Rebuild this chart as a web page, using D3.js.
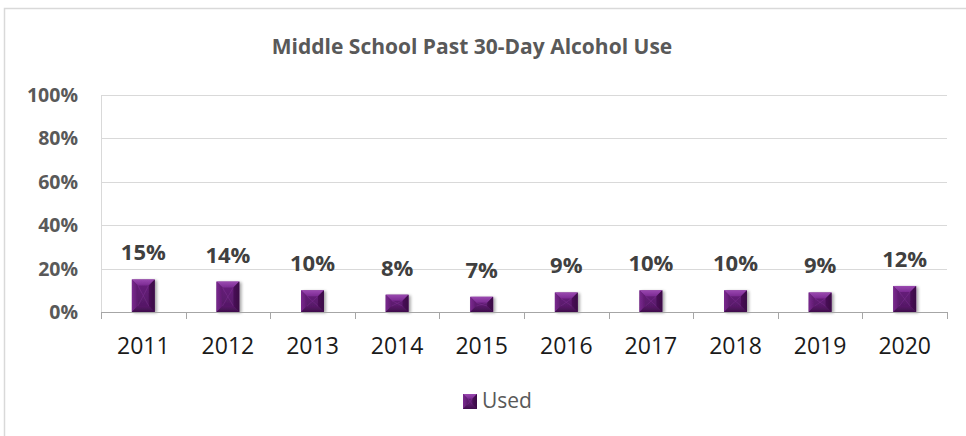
<!DOCTYPE html>
<html>
<head>
<meta charset="utf-8">
<script src="https://cdn.jsdelivr.net/npm/d3@7"></script>
<style>
  html, body { margin: 0; padding: 0; background: #fff; }
  svg { display: block; }
  text { font-family: "Open Sans", "Noto Sans", sans-serif; }
</style>
</head>
<body>
<svg id="chart" width="966" height="436"></svg>
<script>
// Past 30-day alcohol use among middle school students, by survey year
const years = ["2011", "2012", "2013", "2014", "2015", "2016", "2017", "2018", "2019", "2020"];
const usedPct = [15, 14, 10, 8, 7, 9, 10, 10, 9, 12];
const yTicks = [0, 20, 40, 60, 80, 100];
const seriesName = "Used";
const chartTitle = "Middle School Past 30-Day Alcohol Use";

const svg = d3.select("#chart");
const W = 966, H = 436;
const margin = { left: 101, right: 19, top: 95, bottom: 124 };

// chart frame
svg.append("rect")
  .attr("x", 4.5).attr("y", 8.5)
  .attr("width", W + 10).attr("height", H + 10)
  .attr("fill", "#fff").attr("stroke", "#d9d9d9").attr("stroke-width", 1.5);

const x = d3.scaleBand()
  .domain(years)
  .range([margin.left, W - margin.right])
  .paddingInner(0.73).paddingOuter(0.365);

const y = d3.scaleLinear()
  .domain([0, 100])
  .range([H - margin.bottom, margin.top]);

// gradients for the bevelled bar faces
const defs = svg.append("defs");
const mk = (id, stops, x1, y1, x2, y2) => {
  const g = defs.append("linearGradient").attr("id", id)
    .attr("x1", x1).attr("y1", y1).attr("x2", x2).attr("y2", y2);
  stops.forEach(([o, c]) => g.append("stop").attr("offset", o).attr("stop-color", c));
};
mk("gTop", [[0, "#9a49b0"], [1, "#7b2a92"]], 0, 0, 0, 1);
mk("gLeft", [[0, "#7a2a8f"], [1, "#5d1a6e"]], 0, 0, 1, 0);
mk("gRight", [[0, "#4a1158"], [1, "#3a0a45"]], 0, 0, 1, 0);
mk("gBot", [[0, "#5a1a6a"], [1, "#3f0d4c"]], 0, 0, 0, 1);
mk("gMid", [[0, "#6c2180"], [1, "#4f1660"]], 0, 0, 0, 1);

const shadowF = defs.append("filter").attr("id", "shadow")
  .attr("x", "-30%").attr("y", "-30%").attr("width", "160%").attr("height", "160%");
shadowF.append("feGaussianBlur").attr("in", "SourceAlpha").attr("stdDeviation", 1.5);
shadowF.append("feOffset").attr("dx", 2).attr("dy", 1).attr("result", "ob");
shadowF.append("feComponentTransfer").append("feFuncA").attr("type", "linear").attr("slope", 0.35);
const merge = shadowF.append("feMerge");
merge.append("feMergeNode");
merge.append("feMergeNode").attr("in", "SourceGraphic");

// gridlines
svg.append("g").selectAll("line")
  .data(yTicks.filter(t => t > 0))
  .join("line")
  .attr("x1", margin.left).attr("x2", W - margin.right)
  .attr("y1", d => Math.round(y(d)) + 0.5).attr("y2", d => Math.round(y(d)) + 0.5)
  .attr("stroke", "#d9d9d9").attr("stroke-width", 1);

// left axis line
svg.append("line")
  .attr("x1", margin.left + 0.5).attr("x2", margin.left + 0.5)
  .attr("y1", y(100)).attr("y2", y(0))
  .attr("stroke", "#d9d9d9");

// y labels
svg.append("g").selectAll("text")
  .data(yTicks)
  .join("text")
  .attr("x", 78).attr("y", d => y(d))
  .attr("dy", "0.36em")
  .attr("text-anchor", "end")
  .attr("font-size", 19.5).attr("font-weight", "bold")
  .attr("fill", "#595959")
  .text(d => d + "%");

// bevelled bars
function bevel(g, x0, y0, w, h) {
  const b = Math.min(6, w / 3, h / 2.2);
  const x1 = x0 + w, y1 = y0 + h;
  g.append("rect").attr("x", x0).attr("y", y0).attr("width", w).attr("height", h)
    .attr("fill", "url(#gMid)");
  g.append("path").attr("d", `M${x0},${y0}L${x1},${y0}L${x1 - b},${y0 + b}L${x0 + b},${y0 + b}Z`).attr("fill", "url(#gTop)");
  g.append("path").attr("d", `M${x0},${y0}L${x0 + b},${y0 + b}L${x0 + b},${y1 - b}L${x0},${y1}Z`).attr("fill", "url(#gLeft)");
  g.append("path").attr("d", `M${x1},${y0}L${x1},${y1}L${x1 - b},${y1 - b}L${x1 - b},${y0 + b}Z`).attr("fill", "url(#gRight)");
  g.append("path").attr("d", `M${x0},${y1}L${x0 + b},${y1 - b}L${x1 - b},${y1 - b}L${x1},${y1}Z`).attr("fill", "url(#gBot)");
  // faint diagonal creases across the centre face
  g.append("path")
    .attr("d", `M${x0 + b},${y0 + b}L${(x0 + x1) / 2},${(y0 + y1) / 2}L${x1 - b},${y0 + b}M${x0 + b},${y1 - b}L${(x0 + x1) / 2},${(y0 + y1) / 2}L${x1 - b},${y1 - b}`)
    .attr("stroke", "#8a3a9f").attr("stroke-opacity", 0.35).attr("fill", "none").attr("stroke-width", 1);
}

const bars = svg.append("g");
years.forEach((yr, i) => {
  const g = bars.append("g").attr("filter", "url(#shadow)");
  bevel(g, x(yr), y(usedPct[i]), x.bandwidth(), y(0) - y(usedPct[i]));
});

// x axis baseline and ticks
const axisG = svg.append("g");
axisG.append("line")
  .attr("x1", margin.left).attr("x2", W - margin.right)
  .attr("y1", y(0) + 0.5).attr("y2", y(0) + 0.5)
  .attr("stroke", "#a6a6a6");
const step = x.step();
const tickXs = d3.range(years.length + 1).map(i => margin.left + i * step);
axisG.selectAll("line.tick").data(tickXs).join("line").attr("class", "tick")
  .attr("x1", d => Math.round(d) + 0.5).attr("x2", d => Math.round(d) + 0.5)
  .attr("y1", y(0)).attr("y2", y(0) + 7)
  .attr("stroke", "#a6a6a6");

// x labels
svg.append("g").selectAll("text")
  .data(years)
  .join("text")
  .attr("x", d => x(d) + x.bandwidth() / 2)
  .attr("y", y(0) + 42)
  .attr("text-anchor", "middle")
  .attr("font-size", 23)
  .attr("fill", "#1a1a1a")
  .text(d => d);

// value labels
svg.append("g").selectAll("text")
  .data(years)
  .join("text")
  .attr("x", d => x(d) + x.bandwidth() / 2)
  .attr("y", (d, i) => y(usedPct[i]) - 19)
  .attr("text-anchor", "middle")
  .attr("font-size", 22).attr("font-weight", "bold")
  .attr("fill", "#404040")
  .text((d, i) => usedPct[i] + "%");

// title
svg.append("text")
  .attr("x", 472).attr("y", 54)
  .attr("text-anchor", "middle")
  .attr("font-size", 21).attr("font-weight", "bold")
  .attr("fill", "#595959")
  .text(chartTitle);

// legend
const lg = svg.append("g").attr("transform", "translate(463,394)");
bevel(lg, 0, 0, 14, 15);
lg.append("text")
  .attr("x", 19).attr("y", 14)
  .attr("font-size", 21).attr("fill", "#595959")
  .text(seriesName);
</script>
</body>
</html>
